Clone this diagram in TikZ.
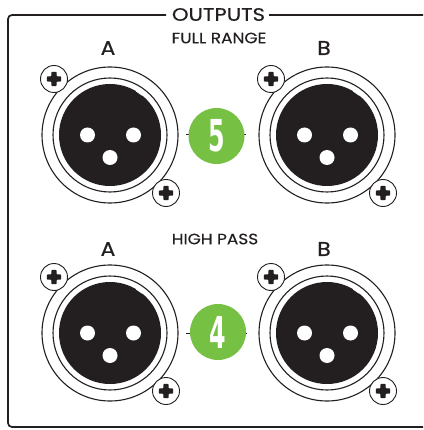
\documentclass[tikz,border=0pt]{standalone}
\usepackage{fontspec}
\setmainfont{Poppins}
\newfontfamily\titlefont[FakeBold=0.35,FakeStretch=1.18]{Poppins}
\newfontfamily\subfont[FakeBold=0.25,FakeStretch=1.13]{Poppins}
\newfontfamily\portfont[FakeBold=0.35,FakeStretch=1.1]{Poppins}
\newfontfamily\digitfont{DejaVu Sans}
\definecolor{ink}{HTML}{231F20}
\definecolor{badgegreen}{HTML}{76C043}
\usetikzlibrary{calc}
\tikzset{
  x=1pt,y=-1pt,
  framepath/.style={draw=ink,line width=1.7pt,rounded corners=4pt},
  outerring/.style={circle,draw=ink,line width=1.1pt,fill=white,minimum size=136pt,inner sep=0pt},
  innerring/.style={circle,draw=ink,line width=1.1pt,fill=white,minimum size=114pt,inner sep=0pt},
  blackface/.style={circle,fill=ink,minimum size=102pt,inner sep=0pt},
  pinhole/.style={circle,fill=white,minimum size=15pt,inner sep=0pt},
  screwhead/.style={circle,draw=ink,line width=0.9pt,fill=white,minimum size=27pt,inner sep=0pt},
  badge/.style={circle,fill=badgegreen,minimum size=56pt,inner sep=0pt,text=white,font=\digitfont\fontsize{44}{44}\selectfont\bfseries},
  title/.style={text=ink,font=\titlefont\fontsize{18}{18}\selectfont,inner sep=0pt},
  sublabel/.style={text=ink,font=\subfont\fontsize{15}{15}\selectfont,inner sep=0pt},
  portlabel/.style={text=ink,font=\portfont\fontsize{20}{20}\selectfont,inner sep=0pt},
  tick/.style={draw=ink,line width=0.6pt},
}
\newcommand{\xlrport}[3]{% name, cx, cy
  \node[outerring] (#1o) at (#2,#3) {};
  \node[innerring] (#1i) at (#2,#3) {};
  \node[blackface] (#1f) at (#2,#3) {};
  \draw[white,line width=0.8pt] ($(#1f)+(26,-44)$) -- ($(#1f)+(32.5,-39.5)$);
  \node[pinhole] (#1p1) at ($(#1f)+(-22.5,0)$) {};
  \node[pinhole] (#1p2) at ($(#1f)+(23.5,0)$) {};
  \node[pinhole] (#1p3) at ($(#1f)+(0,22.5)$) {};
  \node[screwhead] (#1s1) at ($(#1f)+(-56,-56)$) {};
  \node[screwhead] (#1s2) at ($(#1f)+(56,58)$) {};
  \foreach \s in {s1,s2}{
    \fill[ink,rounded corners=0.8pt] ($(#1\s)+(-7.2,-2.6)$) -- ++(4.6,0) -- ++(0,-4.6) -- ++(5.2,0) -- ++(0,4.6) -- ++(4.6,0) -- ++(0,5.2) -- ++(-4.6,0) -- ++(0,4.6) -- ++(-5.2,0) -- ++(0,-4.6) -- ++(-4.6,0) -- cycle;
  }
}
\begin{document}
\begin{tikzpicture}
\useasboundingbox (0,0) rectangle (423,430);
\fill[white] (0,0) rectangle (423,430);
\begin{scope}
\clip (0,0) rectangle (423,430);
\coordinate (frameA) at (166,15);
\coordinate (frameB) at (8,15);
\coordinate (frameC) at (8,427);
\coordinate (frameD) at (430,427);
\coordinate (frameE) at (269,15);
\coordinate (frameF) at (430,15);
\draw[framepath] (frameA) -- (frameB) -- (frameC) -- (frameD);
\draw[framepath] (frameE) -- (frameF);
\end{scope}
\node[title] (outputs) at (218.5,14.5) {OUTPUTS};
\node[sublabel] (full) at (219,38) {FULL RANGE};
\node[sublabel] (high) at (215,239) {HIGH PASS};
\node[portlabel] (la1) at (108,48) {A};
\node[portlabel] (lb1) at (324,48) {B};
\node[portlabel] (la2) at (108,249) {A};
\node[portlabel] (lb2) at (324,249) {B};
\xlrport{ta}{110}{135}
\xlrport{tb}{327}{135}
\xlrport{ba}{110}{333}
\xlrport{bb}{327}{333}
\coordinate (t1a) at (186,134); \coordinate (t1b) at (191,134);
\coordinate (t2a) at (243,134.5); \coordinate (t2b) at (246,134.5);
\coordinate (t3a) at (186,333); \coordinate (t3b) at (192,333);
\coordinate (t4a) at (244,333); \coordinate (t4b) at (247,333);
\draw[tick] (t1a) -- (t1b);
\draw[tick] (t2a) -- (t2b);
\draw[tick] (t3a) -- (t3b);
\draw[tick] (t4a) -- (t4b);
\node[badge] (five) at (216.5,136) {\scalebox{0.54}[1]{5}};
\node[badge] (four) at (218,332) {\scalebox{0.54}[1]{4}};
\end{tikzpicture}
\end{document}
